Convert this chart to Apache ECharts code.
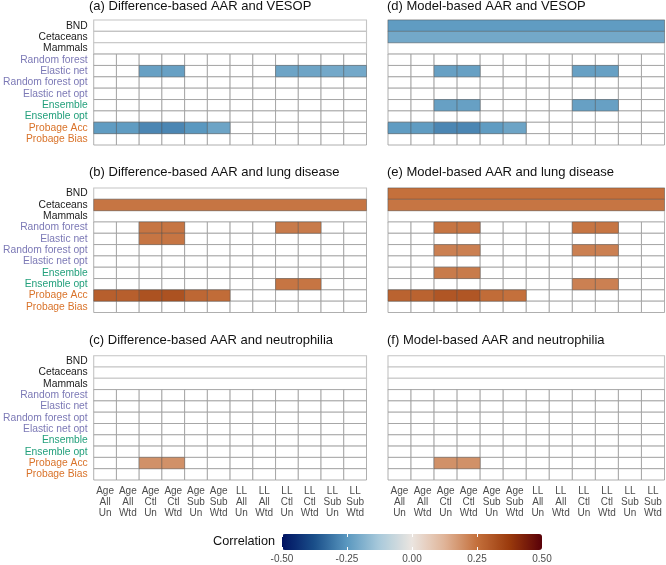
<!DOCTYPE html>
<html>
<head>
<meta charset="utf-8">
<script src="https://cdn.jsdelivr.net/npm/echarts@6/dist/echarts.min.js"></script>
<style>
html,body{margin:0;padding:0;background:#fff;}
#chart{width:666px;height:565px;}
</style>
</head>
<body>
<div id="chart"></div>
<script>
// ---------------- DATA ----------------
const columns = ['Age\nAll\nUn','Age\nAll\nWtd','Age\nCtl\nUn','Age\nCtl\nWtd','Age\nSub\nUn','Age\nSub\nWtd',
                 'LL\nAll\nUn','LL\nAll\nWtd','LL\nCtl\nUn','LL\nCtl\nWtd','LL\nSub\nUn','LL\nSub\nWtd'];
const speciesRows = ['BND','Cetaceans','Mammals'];
const methodRows = ['Random forest','Elastic net','Random forest opt','Elastic net opt','Ensemble','Ensemble opt','Probage Acc','Probage Bias'];
const rowGroups = ['sp','sp','sp','tr','tr','tr','tr','en','en','pr','pr'];
const legendTicks = [-0.5, -0.25, 0, 0.25, 0.5];
const N = null;

// (a) Difference-based AAR and VESOP
const speciesA = [N, N, N];
const methodsA = [
  [N,N,N,N,N,N,N,N,N,N,N,N],
  [N,N,-0.23,-0.23,N,N,N,N,-0.22,-0.22,-0.21,-0.21],
  [N,N,N,N,N,N,N,N,N,N,N,N],
  [N,N,N,N,N,N,N,N,N,N,N,N],
  [N,N,N,N,N,N,N,N,N,N,N,N],
  [N,N,N,N,N,N,N,N,N,N,N,N],
  [-0.24,-0.24,-0.28,-0.28,-0.25,-0.22,N,N,N,N,N,N],
  [N,N,N,N,N,N,N,N,N,N,N,N]
];
// (b) Difference-based AAR and lung disease
const speciesB = [N, 0.24, N];
const methodsB = [
  [N,N,0.24,0.24,N,N,N,N,0.23,0.23,N,N],
  [N,N,0.24,0.24,N,N,N,N,N,N,N,N],
  [N,N,N,N,N,N,N,N,N,N,N,N],
  [N,N,N,N,N,N,N,N,N,N,N,N],
  [N,N,N,N,N,N,N,N,N,N,N,N],
  [N,N,N,N,N,N,N,N,0.24,0.24,N,N],
  [0.29,0.29,0.32,0.32,0.27,0.26,N,N,N,N,N,N],
  [N,N,N,N,N,N,N,N,N,N,N,N]
];
// (c) Difference-based AAR and neutrophilia
const speciesC = [N, N, N];
const methodsC = [
  [N,N,N,N,N,N,N,N,N,N,N,N],
  [N,N,N,N,N,N,N,N,N,N,N,N],
  [N,N,N,N,N,N,N,N,N,N,N,N],
  [N,N,N,N,N,N,N,N,N,N,N,N],
  [N,N,N,N,N,N,N,N,N,N,N,N],
  [N,N,N,N,N,N,N,N,N,N,N,N],
  [N,N,0.19,0.19,N,N,N,N,N,N,N,N],
  [N,N,N,N,N,N,N,N,N,N,N,N]
];
// (d) Model-based AAR and VESOP
const speciesD = [-0.24, -0.21, N];
const methodsD = [
  [N,N,N,N,N,N,N,N,N,N,N,N],
  [N,N,-0.23,-0.23,N,N,N,N,-0.23,-0.23,N,N],
  [N,N,N,N,N,N,N,N,N,N,N,N],
  [N,N,N,N,N,N,N,N,N,N,N,N],
  [N,N,-0.23,-0.23,N,N,N,N,-0.23,-0.23,N,N],
  [N,N,N,N,N,N,N,N,N,N,N,N],
  [-0.24,-0.24,-0.28,-0.28,-0.24,-0.22,N,N,N,N,N,N],
  [N,N,N,N,N,N,N,N,N,N,N,N]
];
// (e) Model-based AAR and lung disease
const speciesE = [0.25, 0.24, N];
const methodsE = [
  [N,N,0.24,0.24,N,N,N,N,0.24,0.24,N,N],
  [N,N,N,N,N,N,N,N,N,N,N,N],
  [N,N,0.22,0.22,N,N,N,N,0.22,0.22,N,N],
  [N,N,N,N,N,N,N,N,N,N,N,N],
  [N,N,0.23,0.23,N,N,N,N,N,N,N,N],
  [N,N,N,N,N,N,N,N,0.22,0.22,N,N],
  [0.28,0.28,0.31,0.31,0.26,0.25,N,N,N,N,N,N],
  [N,N,N,N,N,N,N,N,N,N,N,N]
];
// (f) Model-based AAR and neutrophilia
const speciesF = [N, N, N];
const methodsF = [
  [N,N,N,N,N,N,N,N,N,N,N,N],
  [N,N,N,N,N,N,N,N,N,N,N,N],
  [N,N,N,N,N,N,N,N,N,N,N,N],
  [N,N,N,N,N,N,N,N,N,N,N,N],
  [N,N,N,N,N,N,N,N,N,N,N,N],
  [N,N,N,N,N,N,N,N,N,N,N,N],
  [N,N,0.19,0.19,N,N,N,N,N,N,N,N],
  [N,N,N,N,N,N,N,N,N,N,N,N]
];

// ---------------- LAYOUT / STYLE ----------------
const FONT = '"Liberation Sans", Arial, Helvetica, sans-serif';
const rowLabels = speciesRows.concat(methodRows);
const groupColor = {sp:'#1a1a1a', tr:'#7c79b6', en:'#23a07c', pr:'#d9732a'};
const vik = ['#001261','#1a4f8a','#5a98c0','#a9cadb','#ebe5e0','#e0b498','#c4703c','#9a3a0c','#590008'];

const panels = [
  {title:'(a) Difference-based AAR and VESOP', sp:speciesA, m:methodsA, left:90, top:20, h:125, showY:true, showX:false, tTop:0},
  {title:'(b) Difference-based AAR and lung disease', sp:speciesB, m:methodsB, left:90, top:188, h:124.5, showY:true, showX:false, tTop:166},
  {title:'(c) Difference-based AAR and neutrophilia', sp:speciesC, m:methodsC, left:90, top:355.7, h:124.3, showY:true, showX:true, tTop:334},
  {title:'(d) Model-based AAR and VESOP', sp:speciesD, m:methodsD, left:388, top:20, h:125, showY:false, showX:false, tTop:0},
  {title:'(e) Model-based AAR and lung disease', sp:speciesE, m:methodsE, left:388, top:188, h:124.5, showY:false, showX:false, tTop:166},
  {title:'(f) Model-based AAR and neutrophilia', sp:speciesF, m:methodsF, left:388, top:355.7, h:124.3, showY:false, showX:true, tTop:334}
];
const GRID_W = 276.5;

function makeRender(kind) {
  return function (params, api) {
    const c0 = api.value(0), c1 = api.value(1), r = api.value(2);
    const p = api.coord([c0, r]);
    const s = api.size([1, 1]);
    const w = s[0], h = s[1];
    let fill = '#ffffff', stroke = '#9a9a9a', lw = 0.8;
    if (kind === 'spbg') { stroke = '#c4c4c4'; lw = 1.1; }
    if (kind === 'fill') { fill = api.visual('color'); stroke = 'rgba(70,70,70,0.45)'; lw = 0.8; }
    return {
      type: 'rect',
      shape: {x: p[0] - w / 2, y: p[1] - h / 2, width: w * (c1 - c0 + 1), height: h},
      style: {fill: fill, stroke: stroke, lineWidth: lw}
    };
  };
}

const grid = [], xAxis = [], yAxis = [], series = [], titles = [];
const fillSeriesIdx = [];
const richStyles = {};
Object.keys(groupColor).forEach(g => { richStyles[g] = {color: groupColor[g], fontSize: 10.3, fontFamily: FONT, align: 'right'}; });

panels.forEach((pn, i) => {
  grid.push({left: pn.left, top: pn.top, width: GRID_W, height: pn.h});
  titles.push({text: pn.title, left: pn.left - 1, top: pn.tTop, padding: 0,
    textStyle: {fontSize: 13, fontWeight: 'normal', color: '#111', fontFamily: FONT}});
  xAxis.push({type: 'category', gridIndex: i, data: columns, boundaryGap: true,
    axisLine: {show: false}, axisTick: {show: false}, splitLine: {show: false},
    axisLabel: {show: pn.showX, interval: 0, fontSize: 10, lineHeight: 10.7, color: '#4d4d4d', fontFamily: FONT, margin: 6}});
  yAxis.push({type: 'category', gridIndex: i, data: rowLabels, inverse: true, boundaryGap: true,
    axisLine: {show: false}, axisTick: {show: false}, splitLine: {show: false},
    axisLabel: {show: pn.showY, interval: 0, margin: 6, fontFamily: FONT, fontSize: 10.3,
      formatter: (v, idx) => '{' + rowGroups[idx] + '|' + v + '}', rich: richStyles}});

  // background tiles
  const spBg = speciesRows.map((_, r) => [0, columns.length - 1, r]);
  const mBg = [];
  methodRows.forEach((_, r) => columns.forEach((_, c) => mBg.push([c, c, r + speciesRows.length])));
  series.push({type: 'custom', xAxisIndex: i, yAxisIndex: i, renderItem: makeRender('spbg'),
    encode: {x: [0, 1], y: 2}, data: spBg, silent: true, z: 1});
  series.push({type: 'custom', xAxisIndex: i, yAxisIndex: i, renderItem: makeRender('mbg'),
    encode: {x: [0, 1], y: 2}, data: mBg, silent: true, z: 2});

  // filled tiles
  const filled = [];
  pn.sp.forEach((v, r) => { if (v !== null) filled.push([0, columns.length - 1, r, v]); });
  pn.m.forEach((row, r) => row.forEach((v, c) => { if (v !== null) filled.push([c, c, r + speciesRows.length, v]); }));
  fillSeriesIdx.push(series.length);
  series.push({type: 'custom', xAxisIndex: i, yAxisIndex: i, renderItem: makeRender('fill'),
    encode: {x: [0, 1], y: 2}, data: filled, silent: true, z: 3});
});

// legend axis grid
const LG = grid.length;
grid.push({left: 282, top: 534, width: 260, height: 16});
xAxis.push({type: 'value', gridIndex: LG, min: legendTicks[0], max: legendTicks[legendTicks.length - 1], interval: 0.25, z: 10,
  axisLine: {show: false}, splitLine: {show: false},
  axisTick: {show: true, inside: true, length: 3, lineStyle: {color: '#ffffff', width: 1}},
  axisLabel: {formatter: v => v.toFixed(2), fontSize: 10, color: '#4d4d4d', fontFamily: FONT, margin: 4,
    customValues: legendTicks}});
xAxis.push({type: 'value', gridIndex: LG, position: 'top', min: legendTicks[0], max: legendTicks[legendTicks.length - 1], interval: 0.25, z: 10,
  axisLine: {show: false}, splitLine: {show: false}, axisLabel: {show: false},
  axisTick: {show: true, inside: true, length: 3, lineStyle: {color: '#ffffff', width: 1}}});
yAxis.push({type: 'value', gridIndex: LG, show: false, min: 0, max: 1});

titles.push({text: 'Correlation', left: 213, top: 535, padding: 0,
  textStyle: {fontSize: 12.7, fontWeight: 'normal', color: '#111', fontFamily: FONT}});

const option = {
  animation: false,
  backgroundColor: '#ffffff',
  title: titles,
  grid: grid,
  xAxis: xAxis,
  yAxis: yAxis,
  visualMap: {
    type: 'continuous', min: legendTicks[0], max: legendTicks[legendTicks.length - 1],
    dimension: 3, seriesIndex: fillSeriesIdx, orient: 'horizontal',
    left: 282, top: 534, itemWidth: 16, itemHeight: 260, padding: 0,
    calculable: false, hoverLink: false, realtime: false, text: ['', ''], showLabel: false,
    inRange: {color: vik}, z: 5
  },
  series: series
};

const chart = echarts.init(document.getElementById('chart'), null, {renderer: 'canvas'});
chart.setOption(option);
</script>
</body>
</html>
